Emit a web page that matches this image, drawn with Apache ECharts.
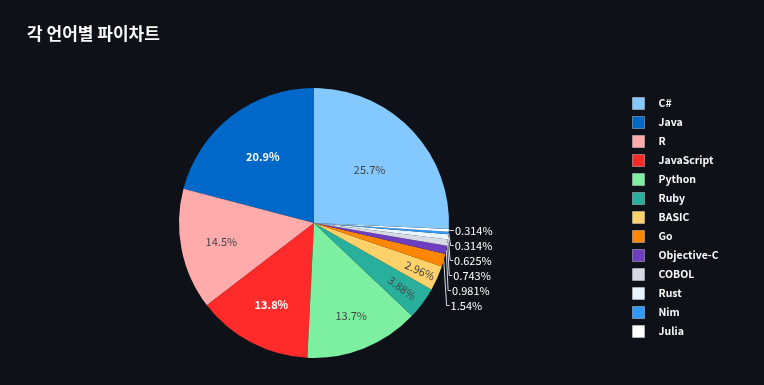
<!DOCTYPE html>
<html>
<head>
<meta charset="utf-8">
<script src="https://cdn.jsdelivr.net/npm/echarts@6/dist/echarts.min.js"></script>
<style>
html,body{margin:0;padding:0;background:#0e1117;}
#chart{width:764px;height:385px;}
</style>
</head>
<body>
<div id="chart"></div>
<script>
// Legend order (as in reference)
const languages = ["C#", "Java", "R", "JavaScript", "Python", "Ruby", "BASIC", "Go", "Objective-C", "COBOL", "Rust", "Nim", "Julia"];
// Percent shares
const shares = [25.7, 20.9, 14.5, 13.8, 13.7, 3.88, 2.96, 1.54, 0.981, 0.743, 0.625, 0.314, 0.314];
const colors = ["#83c9ff", "#0068c9", "#ffabab", "#ff2b2b", "#7defa1", "#29b09d", "#ffd16a", "#ff8700", "#6d3fc0", "#d5dae5", "#e8f4ff", "#2e9aff", "#ffffff"];
const whiteInside = ["Java", "JavaScript"];
const radialInside = ["Ruby", "BASIC"];
const outsideLabels = ["Go", "Objective-C", "COBOL", "Rust", "Nim", "Julia"];
// style: radial position of inside labels as fraction of radius
const insideLabelRadius = { "C#": 0.57, "Java": 0.62, "R": 0.70, "JavaScript": 0.68, "Python": 0.74, "Ruby": 0.81, "BASIC": 0.86 };

const CX = 314, CY = 223, R = 135, START = 90;

// Drawing order (counter-clockwise from 12 o'clock): all but the first, then the first
const drawOrder = languages.slice(1).concat(languages.slice(0, 1));
const drawValues = drawOrder.map(n => shares[languages.indexOf(n)]);
const total = drawValues.reduce((a, b) => a + b, 0);
const midAngles = [];
(function () {
  let cum = 0;
  drawValues.forEach(v => { midAngles.push(START + (cum + v / 2) / total * 360); cum += v; });
})();

const data = drawOrder.map(name => {
  const i = languages.indexOf(name);
  const item = { name: name, value: shares[i], itemStyle: { color: colors[i] } };
  if (outsideLabels.includes(name)) {
    item.label = { position: 'outside', color: '#ffffff', fontSize: 11, lineHeight: 13, distanceToLabelLine: 1 };
    item.labelLine = { show: true, length: 3, length2: 3, lineStyle: { color: '#d5dae5', width: 1 } };
  } else {
    const white = whiteInside.includes(name);
    item.label = { position: 'inside', color: white ? '#ffffff' : '#444444', fontSize: 11, fontWeight: white ? 'bold' : 'normal' };
    if (radialInside.includes(name)) item.label.rotate = 'radial';
    item.labelLine = { show: false };
  }
  return item;
});

const chart = echarts.init(document.getElementById('chart'));
chart.setOption({
  backgroundColor: '#0e1117',
  animation: false,
  textStyle: { fontFamily: '"Noto Sans CJK KR", "Noto Sans", sans-serif' },
  title: {
    text: '각 언어별 파이차트',
    left: 22, top: 20,
    textStyle: { color: '#fafafa', fontSize: 17, fontWeight: 'bold', fontFamily: '"Noto Sans CJK KR", sans-serif' }
  },
  legend: {
    orient: 'vertical',
    left: 627, top: 91,
    data: languages,
    icon: 'rect',
    itemWidth: 12, itemHeight: 12, itemGap: 4,
    itemStyle: { borderColor: 'rgba(255,255,255,0.35)', borderWidth: 1 },
    textStyle: { color: '#fafafa', fontSize: 10.5, fontWeight: 'bold', padding: [0, 0, 0, 9], lineHeight: 15 }
  },
  series: [{
    type: 'pie',
    center: [CX, CY],
    radius: R,
    startAngle: START,
    clockwise: false,
    percentPrecision: 4,
    avoidLabelOverlap: true,
    itemStyle: { borderWidth: 0 },
    label: {
      formatter: p => Number(p.percent).toPrecision(3) + '%'
    },
    labelLayout: function (params) {
      const name = drawOrder[params.dataIndex];
      const f = insideLabelRadius[name];
      if (f === undefined) return {};
      const a = midAngles[params.dataIndex] * Math.PI / 180;
      return {
        x: CX + f * R * Math.cos(a),
        y: CY - f * R * Math.sin(a),
        align: 'center',
        verticalAlign: 'middle'
      };
    },
    emphasis: { disabled: true },
    data: data
  }]
});
</script>
</body>
</html>
